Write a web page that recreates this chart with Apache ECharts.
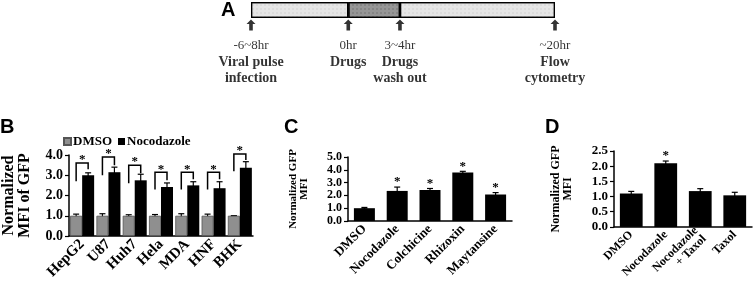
<!DOCTYPE html>
<html>
<head>
<meta charset="utf-8">
<script src="https://cdn.jsdelivr.net/npm/echarts@6/dist/echarts.min.js"></script>
<style>
  html, body { margin: 0; padding: 0; background: #fff; }
  #main { width: 756px; height: 285px; }
</style>
</head>
<body>
<div id="main"></div>
<script>
// A: timeline (schematic lengths, % of the bar)
var stageLen = [32, 17, 51]
var stageColor = ['#e6e6e6', '#969696', '#e6e6e6']
var stageDots = ['rgba(0,0,0,0.18)', 'rgba(0,0,0,0.45)', 'rgba(0,0,0,0.18)']
var eventPos = [0, 32, 49, 100]
var eventTime = ['-6~8hr', '0hr', '3~4hr', '~20hr']
var eventName = [['Viral pulse', 'infection'], ['Drugs'], ['Drugs', 'wash out'], ['Flow', 'cytometry']]

// B: cell lines
var cellLines = ['HepG2', 'U87', 'Huh7', 'Hela', 'MDA', 'HNF', 'BHK']
var dmsoB = [1, 1, 1, 1, 1, 1, 1]
var dmsoBErr = [0.08, 0.1, 0.05, 0.06, 0.1, 0.08, 0]
var nocoB = [3.0, 3.15, 2.75, 2.42, 2.5, 2.36, 3.37]
var nocoBErr = [0.12, 0.25, 0.3, 0.2, 0.18, 0.32, 0.3]
var bracketTop = [3.6, 3.9, 3.5, 3.15, 3.15, 3.15, 4.05]
var bracketLeft = [2.7, 3.0, 2.6, 2.3, 2.3, 2.3, 3.2]
var bracketRight = [3.3, 3.5, 3.1, 2.75, 2.8, 2.8, 3.75]

// C: microtubule drugs
var drugsC = ['DMSO', 'Nocodazole', 'Colchicine', 'Rhizoxin', 'Maytansine']
var mfiC = [1.0, 2.35, 2.42, 3.78, 2.07]
var errC = [0.06, 0.3, 0.12, 0.1, 0.15]
var sigC = [0, 1, 1, 1, 1]

// D: nocodazole + taxol
var drugsD = ['DMSO', 'Nocodazole', 'Nocodazole\n+ Taxol', 'Taxol']
var mfiD = [1.1, 2.1, 1.18, 1.04]
var errD = [0.07, 0.07, 0.08, 0.1]
var sigD = [0, 1, 0, 0]

var serif = 'Liberation Serif'
var black = '#000'

function errorBar (offset) {
  return function (params, api) {
    var x = api.value(0)
    var v = api.value(1)
    var e = api.value(2)
    var hi = api.coord([x, v + e])
    var lo = api.coord([x, v - e])
    var cx = hi[0] + offset
    var st = { stroke: black, lineWidth: 1.2 }
    return {
      type: 'group',
      children: [
        { type: 'line', shape: { x1: cx, y1: hi[1], x2: cx, y2: lo[1] }, style: st },
        { type: 'line', shape: { x1: cx - 3, y1: hi[1], x2: cx + 3, y2: hi[1] }, style: st },
        { type: 'line', shape: { x1: cx - 3, y1: lo[1], x2: cx + 3, y2: lo[1] }, style: st }
      ]
    }
  }
}

function starMark (params, api) {
  if (!api.value(2)) return null
  var p = api.coord([api.value(0), api.value(1)])
  return {
    type: 'text',
    x: p[0],
    y: p[1] - 5,
    style: { text: '*', fill: black, font: 'bold 13px ' + serif, align: 'center', verticalAlign: 'middle' }
  }
}

function bracket (params, api) {
  var i = api.value(0)
  var top = api.coord([i, api.value(1)])
  var l = api.coord([i, api.value(2)])
  var r = api.coord([i, api.value(3)])
  var xl = top[0] - 6
  var xr = top[0] + 6
  var st = { stroke: black, lineWidth: 1.5, fill: null }
  return {
    type: 'group',
    children: [
      { type: 'polyline', shape: { points: [[xl, l[1]], [xl, top[1]], [xr, top[1]], [xr, r[1]]] }, style: st },
      { type: 'text', x: top[0], y: top[1] - 3, style: { text: '*', fill: black, font: 'bold 13px ' + serif, align: 'center', verticalAlign: 'middle' } }
    ]
  }
}

function valueAxis (grid, max, step, size, name, nameSize, gap) {
  return {
    type: 'value',
    gridIndex: grid,
    min: 0,
    max: max,
    interval: step,
    axisLine: { show: true, lineStyle: { color: black, width: 1.5 } },
    axisTick: { show: true, length: 4, lineStyle: { color: black, width: 1.2 } },
    splitLine: { show: false },
    axisLabel: {
      color: black,
      fontFamily: serif,
      fontWeight: 'bold',
      fontSize: size,
      margin: 6,
      formatter: function (v) { return v.toFixed(1) }
    },
    name: name,
    nameLocation: 'middle',
    nameRotate: 90,
    nameGap: gap,
    nameTextStyle: { color: black, fontFamily: serif, fontWeight: 'bold', fontSize: nameSize, lineHeight: nameSize }
  }
}

function catAxis (grid, data, size) {
  return {
    type: 'category',
    gridIndex: grid,
    data: data,
    axisLine: { lineStyle: { color: black, width: 1.5 } },
    axisTick: { show: false },
    axisLabel: {
      interval: 0,
      rotate: 45,
      margin: 6,
      color: black,
      fontFamily: serif,
      fontWeight: 'bold',
      fontSize: size,
      lineHeight: size
    }
  }
}

var stageSeries = stageLen.map(function (len, i) {
  return {
    type: 'bar',
    xAxisIndex: 0,
    yAxisIndex: 0,
    stack: 'time',
    barWidth: 16,
    data: [len],
    silent: true,
    itemStyle: {
      color: stageColor[i],
      borderColor: black,
      borderWidth: 1.2,
      decal: { symbol: 'rect', symbolSize: 0.5, dashArrayX: 2, dashArrayY: 2, color: stageDots[i] }
    }
  }
})

var option = {
  animation: false,
  title: [
    { text: 'A', left: 221, top: 0 },
    { text: 'B', left: 0, top: 117 },
    { text: 'C', left: 284, top: 117 },
    { text: 'D', left: 545, top: 117 }
  ].map(function (t) {
    t.padding = 0
    t.textStyle = { color: black, fontFamily: 'Liberation Sans', fontWeight: 'bold', fontSize: 20 }
    return t
  }),
  legend: {
    data: ['DMSO', 'Nocodazole'],
    left: 63,
    top: 135,
    padding: 0,
    icon: 'rect',
    itemWidth: 7,
    itemHeight: 7,
    itemGap: 6,
    textStyle: { color: black, fontFamily: serif, fontWeight: 'bold', fontSize: 13, padding: [0, 0, 0, -3] }
  },
  grid: [
    { left: 251, width: 304, top: 2, height: 16 },
    { left: 251, width: 304, top: 20, height: 10 },
    { left: 62, width: 191, top: 155, height: 81 },
    { left: 348, width: 164, top: 157, height: 64 },
    { left: 614, width: 138, top: 151, height: 80 }
  ],
  xAxis: [
    { type: 'value', gridIndex: 0, min: 0, max: 100, show: false },
    { type: 'value', gridIndex: 1, min: 0, max: 100, show: false },
    catAxis(2, cellLines, 15),
    catAxis(3, drugsC, 13),
    catAxis(4, drugsD, 12)
  ],
  yAxis: [
    { type: 'category', gridIndex: 0, data: ['t'], show: false },
    { type: 'value', gridIndex: 1, min: 0, max: 1, show: false },
    valueAxis(2, 4, 1, 14, 'Normalized\nMFI of GFP', 16, 36),
    valueAxis(3, 5, 1, 12, 'Normalized GFP\nMFI', 11, 38),
    valueAxis(4, 2.5, 0.5, 13, 'Normalized GFP\nMFI', 12, 40)
  ],
  series: stageSeries.concat([
    {
      type: 'scatter',
      xAxisIndex: 1,
      yAxisIndex: 1,
      symbol: 'path://M5,0 L10,5 L7,5 L7,12 L3,12 L3,5 L0,5 Z',
      symbolSize: [9, 11],
      itemStyle: { color: black },
      data: eventPos.map(function (p) { return [p, 0.5] }),
      label: {
        show: true,
        position: 'bottom',
        distance: 7,
        align: 'center',
        formatter: function (p) {
          var lines = ['{t|' + eventTime[p.dataIndex] + '}']
          eventName[p.dataIndex].forEach(function (s) { lines.push('{b|' + s + '}') })
          return lines.join('\n')
        },
        rich: {
          t: { color: black, fontFamily: serif, fontSize: 13, lineHeight: 17 },
          b: { color: black, fontFamily: serif, fontWeight: 'bold', fontSize: 14, lineHeight: 16 }
        }
      }
    },
    {
      name: 'DMSO',
      type: 'bar',
      xAxisIndex: 2,
      yAxisIndex: 2,
      barWidth: 12,
      barGap: '0%',
      data: dmsoB,
      itemStyle: { color: '#8f8f8f', borderColor: '#555', borderWidth: 0.8 }
    },
    {
      name: 'Nocodazole',
      type: 'bar',
      xAxisIndex: 2,
      yAxisIndex: 2,
      barWidth: 12,
      barGap: '0%',
      data: nocoB,
      itemStyle: { color: black }
    },
    {
      type: 'custom',
      xAxisIndex: 2,
      yAxisIndex: 2,
      renderItem: errorBar(-6),
      data: cellLines.map(function (c, i) { return [i, dmsoB[i], dmsoBErr[i]] })
    },
    {
      type: 'custom',
      xAxisIndex: 2,
      yAxisIndex: 2,
      renderItem: errorBar(6),
      data: cellLines.map(function (c, i) { return [i, nocoB[i], nocoBErr[i]] })
    },
    {
      type: 'custom',
      xAxisIndex: 2,
      yAxisIndex: 2,
      renderItem: bracket,
      data: cellLines.map(function (c, i) { return [i, bracketTop[i], bracketLeft[i], bracketRight[i]] })
    },
    {
      type: 'bar',
      xAxisIndex: 3,
      yAxisIndex: 3,
      barWidth: '64%',
      data: mfiC,
      itemStyle: { color: black }
    },
    {
      type: 'custom',
      xAxisIndex: 3,
      yAxisIndex: 3,
      renderItem: errorBar(0),
      data: drugsC.map(function (c, i) { return [i, mfiC[i], errC[i]] })
    },
    {
      type: 'custom',
      xAxisIndex: 3,
      yAxisIndex: 3,
      renderItem: starMark,
      data: drugsC.map(function (c, i) { return [i, mfiC[i] + errC[i], sigC[i]] })
    },
    {
      type: 'bar',
      xAxisIndex: 4,
      yAxisIndex: 4,
      barWidth: '66%',
      data: mfiD,
      itemStyle: { color: black }
    },
    {
      type: 'custom',
      xAxisIndex: 4,
      yAxisIndex: 4,
      renderItem: errorBar(0),
      data: drugsD.map(function (c, i) { return [i, mfiD[i], errD[i]] })
    },
    {
      type: 'custom',
      xAxisIndex: 4,
      yAxisIndex: 4,
      renderItem: starMark,
      data: drugsD.map(function (c, i) { return [i, mfiD[i] + errD[i], sigD[i]] })
    }
  ])
}

var myChart = echarts.init(document.getElementById('main'))
myChart.setOption(option)
</script>
</body>
</html>
